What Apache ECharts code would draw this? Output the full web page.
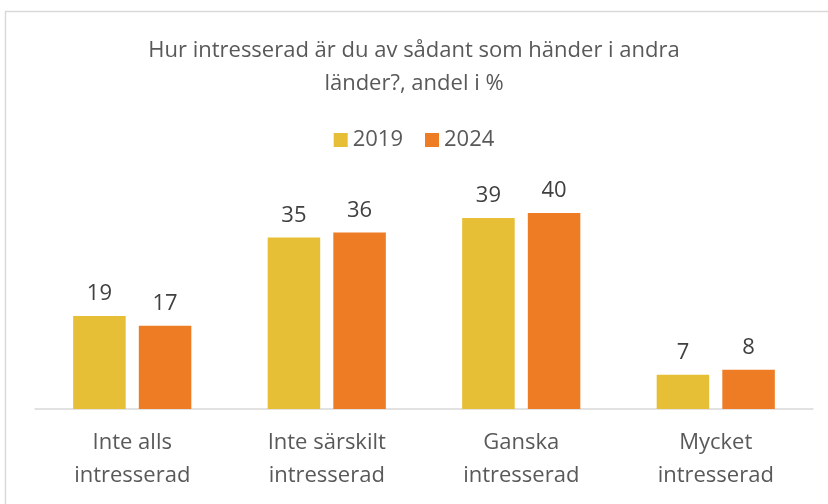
<!DOCTYPE html>
<html>
<head>
<meta charset="utf-8">
<script src="https://cdn.jsdelivr.net/npm/echarts@6/dist/echarts.min.js"></script>
<style>
html, body { margin: 0; padding: 0; background: #fff; }
#chart { width: 828px; height: 504px; }
</style>
</head>
<body>
<div id="chart"></div>
<script>
const categories = ['Inte alls\nintresserad', 'Inte särskilt\nintresserad', 'Ganska\nintresserad', 'Mycket\nintresserad']
const values2019 = [19, 35, 39, 7]
const values2024 = [17, 36, 40, 8]

let chart = echarts.init(document.getElementById('chart'))
let font = 'Open Sans'
let option = {
	backgroundColor: '#fff',
	animation: false,
	graphic: [
		{
			type: 'rect',
			shape: { x: 5.5, y: 11.5, width: 840, height: 520 },
			style: { fill: 'none', stroke: '#d9d9d9', lineWidth: 1.5 },
		},
	],
	title: {
		text: 'Hur intresserad är du av sådant som händer i andra\nländer?, andel i %',
		left: 'center',
		top: 29,
		textStyle: {
			fontFamily: font,
			fontSize: 22,
			fontWeight: 'normal',
			color: '#595959',
			lineHeight: 33,
		},
	},
	legend: {
		data: ['2019', '2024'],
		top: 124,
		left: 'center',
		itemWidth: 14,
		itemHeight: 14,
		itemGap: 22,
		icon: 'rect',
		textStyle: {
			fontFamily: font,
			fontSize: 22,
			color: '#595959',
		},
	},
	grid: {
		left: 35,
		right: 15,
		top: 213,
		bottom: 95,
	},
	xAxis: {
		type: 'category',
		data: categories,
		axisLine: { lineStyle: { color: '#d9d9d9', width: 1.5 } },
		axisTick: { show: false },
		axisLabel: {
			fontFamily: font,
			fontSize: 22,
			color: '#595959',
			lineHeight: 33,
			margin: 17,
		},
	},
	yAxis: {
		type: 'value',
		min: 0,
		max: 40,
		show: false,
		splitLine: { show: false },
	},
	series: [
		{
			name: '2019',
			type: 'bar',
			data: values2019,
			barWidth: '27%',
			barGap: '25%',
			itemStyle: { color: '#E6BF36' },
			label: {
				show: true,
				position: 'top',
				distance: 11,
				fontFamily: font,
				fontSize: 22,
				color: '#404040',
			},
		},
		{
			name: '2024',
			type: 'bar',
			data: values2024,
			barWidth: '27%',
			itemStyle: { color: '#EE7C25' },
			label: {
				show: true,
				position: 'top',
				distance: 11,
				fontFamily: font,
				fontSize: 22,
				color: '#404040',
			},
		},
	],
}
chart.setOption(option)
</script>
</body>
</html>
